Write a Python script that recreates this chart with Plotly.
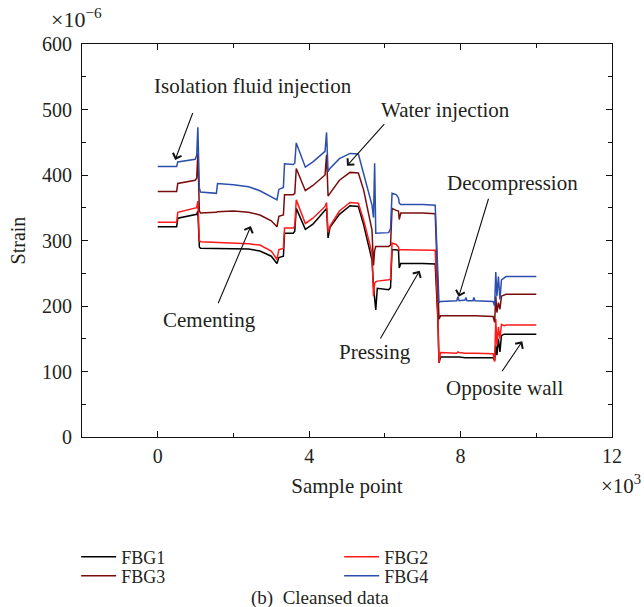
import plotly.graph_objects as go

# sample point (x10^3)
x_k = [0.00, 0.50, 0.53, 0.99, 1.03, 1.06, 1.10, 1.13, 1.55, 1.58, 2.00, 2.40, 2.70, 3.00, 3.15,
       3.20, 3.32, 3.35, 3.58, 3.62, 3.66, 3.90, 4.10, 4.42, 4.46, 4.50, 4.55, 4.80, 5.08, 5.30,
       5.44, 5.62, 5.66, 5.70, 5.73, 5.76, 5.80, 6.10, 6.15, 6.19, 6.30, 6.36, 6.38, 6.42, 7.00,
       7.33, 7.40, 7.43, 7.47, 7.90, 7.93, 7.96, 8.12, 8.14, 8.17, 8.33, 8.35, 8.38, 8.86, 8.90,
       8.93, 8.96, 9.00, 9.04, 9.08, 9.15, 9.20, 10.00]

# strain (x10^-6)
fbg4 = [413, 413, 420, 424, 430, 473, 380, 374, 372, 387, 385, 382, 376, 367, 362,
        378, 381, 417, 416, 418, 449, 412, 420, 436, 465, 405, 410, 425, 433, 432,
        403, 362, 354, 335, 418, 311, 311, 312, 318, 372, 370, 365, 357, 355, 355,
        354, 250, 205, 207, 208, 214, 208, 209, 213, 208, 208, 213, 208, 207, 200,
        252, 215, 245, 210, 240, 243, 245, 245]
fbg3 = [375, 375, 387, 392, 395, 433, 345, 342, 343, 344, 345, 343, 339, 330, 321,
        337, 339, 370, 370, 372, 410, 376, 384, 400, 431, 368, 372, 392, 404, 403,
        377, 325, 316, 262, 285, 291, 291, 291, 293, 349, 346, 345, 332, 342, 342,
        341, 230, 180, 185, 185, 186, 185, 185, 185, 185, 185, 185, 185, 184, 175,
        215, 190, 205, 195, 215, 217, 218, 218]
fbg2 = [328, 328, 343, 349, 350, 360, 300, 298, 297, 296, 296, 295, 293, 284, 271,
        286, 288, 319, 319, 322, 362, 326, 334, 352, 358, 312, 322, 345, 358, 357,
        331, 290, 281, 215, 235, 237, 238, 240, 241, 296, 294, 290, 285, 286, 286,
        285, 190, 113, 129, 128, 130, 129, 128, 128, 129, 128, 128, 128, 127, 115,
        180, 140, 168, 150, 172, 170, 171, 171]
fbg1 = [321, 321, 334, 339, 340, 345, 290, 288, 288, 288, 288, 287, 284, 276, 265,
        274, 276, 311, 311, 314, 349, 317, 325, 347, 349, 304, 320, 340, 353, 352,
        324, 280, 270, 230, 210, 194, 227, 225, 228, 286, 286, 285, 258, 265, 265,
        264, 180, 113, 122, 122, 123, 122, 121, 121, 122, 121, 121, 122, 121, 117,
        140, 125, 150, 130, 155, 157, 157, 157]

# (name, values, colour, legend id)
series = [("FBG1", fbg1, "#000000", "legend"), ("FBG2", fbg2, "#ff1a1a", "legend2"),
          ("FBG3", fbg3, "#7a0c0c", "legend3"), ("FBG4", fbg4, "#2c4fae", "legend4")]

x_ticks = [0, 4, 8, 12]
y_ticks = [0, 100, 200, 300, 400, 500, 600]

FONT = "Liberation Serif"
TXT = "#231f20"

fig = go.Figure()
for name, ys, col, lg in series:
    fig.add_trace(go.Scatter(x=x_k, y=ys, mode="lines", name=name, legend=lg,
                             line=dict(color=col, width=1.5)))

# annotations: (text, text x, text y, arrow tail x, tail y, head x, head y)
notes = [
    ("Isolation fluid injection", 2.52, 536, 0.94, 497, 0.46, 423),
    ("Water injection", 7.6, 499, 6.02, 480, 5.00, 414),
    ("Cementing", 1.36, 179, 1.58, 202, 2.46, 322),
    ("Pressing", 5.75, 130, 5.86, 148, 6.92, 254),
    ("Decompression", 9.37, 388, 8.75, 366, 7.95, 214),
    ("Opposite wall", 9.16, 75, 9.07, 98, 9.63, 146),
]
for txt, tx, ty, x0, y0, x1, y1 in notes:
    fig.add_annotation(x=x1, y=y1, ax=x0, ay=y0, xref="x", yref="y", axref="x", ayref="y",
                       showarrow=True, arrowhead=4, arrowsize=1.6, arrowwidth=1.1,
                       arrowcolor="#111", text="")
    fig.add_annotation(x=tx, y=ty, xref="x", yref="y", text=txt, showarrow=False,
                       font=dict(family=FONT, size=21, color=TXT))

fig.add_annotation(x=-0.062, y=1.066, xref="paper", yref="paper", xanchor="left",
                   yanchor="middle", text="×10<sup>−6</sup>", showarrow=False,
                   font=dict(family=FONT, size=22, color=TXT))
fig.add_annotation(x=0.975, y=-0.12, xref="paper", yref="paper", xanchor="left",
                   yanchor="middle", text="×10<sup>3</sup>", showarrow=False,
                   font=dict(family=FONT, size=21, color=TXT))
fig.add_annotation(x=0.449, y=(437 - 598) / 393, xref="paper", yref="paper", xanchor="center",
                   yanchor="middle", text="(b)  Cleansed data", showarrow=False,
                   font=dict(family=FONT, size=19, color=TXT))

axis_common = dict(showline=True, linecolor="#111", linewidth=1.2, mirror="ticks",
                   ticks="inside", ticklen=6, tickcolor="#111", showgrid=False,
                   zeroline=False, tickfont=dict(family=FONT, size=20, color=TXT))

fig.update_xaxes(range=[-2, 12], tickvals=x_ticks, ticktext=[str(v) for v in x_ticks],
                 ticklabelstandoff=1,
                 minor=dict(tickvals=[-2, 2, 6, 10], ticks="inside", ticklen=4, tickcolor="#111"),
                 title=dict(text="Sample point", font=dict(family=FONT, size=21, color=TXT), standoff=12),
                 **axis_common)
fig.update_yaxes(range=[0, 600], tickvals=y_ticks, ticktext=[str(v) for v in y_ticks],
                 ticklabelstandoff=5,
                 minor=dict(tickvals=[50, 150, 250, 350, 450, 550], ticks="inside", ticklen=4, tickcolor="#111"),
                 title=dict(text="Strain", font=dict(family=FONT, size=20, color=TXT), standoff=10),
                 **axis_common)

legend_common = dict(orientation="h", xanchor="left", yanchor="middle", yref="container",
                     traceorder="normal", font=dict(family=FONT, size=18, color=TXT),
                     bgcolor="rgba(0,0,0,0)", itemwidth=35)

fig.update_layout(
    width=644, height=607,
    margin=dict(l=82, r=32, t=44, b=170),
    plot_bgcolor="white", paper_bgcolor="white",
    showlegend=True,
    legend=dict(x=-0.011, y=1 - 557 / 607, **legend_common),
    legend2=dict(x=0.4852, y=1 - 557 / 607, **legend_common),
    legend3=dict(x=-0.011, y=1 - 576 / 607, **legend_common),
    legend4=dict(x=0.4852, y=1 - 576 / 607, **legend_common),
)

fig.write_html("out.html")
